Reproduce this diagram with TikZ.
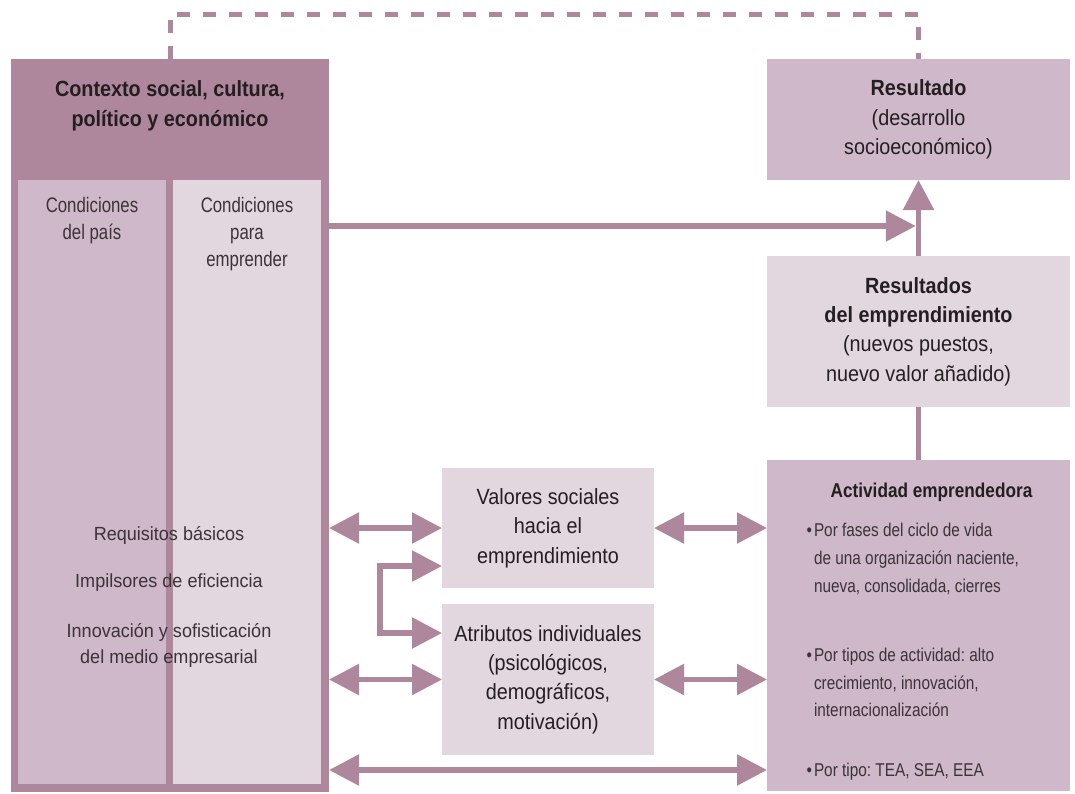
\documentclass[tikz,border=0pt]{standalone}
\usepackage{fontspec}
\setmainfont{Liberation Sans}[FakeStretch=0.9]
\newfontfamily\fcond{Liberation Sans}[FakeStretch=0.8]
\newfontfamily\freq{Liberation Sans}[FakeStretch=0.95]
\newfontfamily\fbul{Liberation Sans}[FakeStretch=0.83]
\newfontfamily\fact{Liberation Sans}[FakeStretch=0.86]
\usetikzlibrary{arrows.meta,calc}
\definecolor{dk}{RGB}{174,135,157}
\definecolor{md}{RGB}{207,184,201}
\definecolor{lt}{RGB}{226,214,223}
\definecolor{tx}{RGB}{35,31,32}
\definecolor{tl}{RGB}{58,52,55}
\frenchspacing
\begin{document}
\begin{tikzpicture}[x=1pt,y=-1pt,
  box/.style={anchor=north west, inner sep=0pt, outer sep=0pt, draw=none},
  mainfnt/.style={align=center, text=tx, font=\fontsize{22}{29.3}\selectfont},
  lbl/.style={inner sep=0pt, outer sep=0pt},
  arr/.style={draw=dk, line width=5.5pt},
  >={Triangle[length=30pt,width=30pt]}
]
\useasboundingbox (0,0) rectangle (1075,793);

% boxes
\node[box, fill=dk, minimum width=318pt, minimum height=733pt] (ctx) at (11,59) {};
\node[box, fill=md, minimum width=148pt, minimum height=604pt] (pais) at (18,180) {};
\node[box, fill=lt, minimum width=148pt, minimum height=604pt] (para) at (173,180) {};

\node[box, fill=md, minimum width=303pt, minimum height=121pt, mainfnt] (res) at (767,59)
  {\textbf{Resultado}\\(desarrollo\\socioeconómico)};
\node[box, fill=lt, minimum width=303pt, minimum height=151pt, mainfnt] (resemp) at (767,256)
  {\textbf{Resultados}\\\textbf{del emprendimiento}\\(nuevos puestos,\\nuevo valor añadido)};
\node[box, fill=md, minimum width=303pt, minimum height=331pt] (act) at (767,460) {};

\node[box, fill=lt, minimum width=212pt, minimum height=120pt, mainfnt] (val) at (442,468)
  {Valores sociales\\hacia el\\emprendimiento};
\node[box, fill=lt, minimum width=212pt, minimum height=151pt, mainfnt] (atr) at (442,604)
  {Atributos individuales\\(psicológicos,\\demográficos,\\motivación)};

% texts
\node[lbl, anchor=north, align=center, text=tx, font=\bfseries\fontsize{22}{30}\selectfont] (ctxT) at (170,80.5)
  {Contexto social, cultura,\\político y económico};
\node[lbl, anchor=north, align=center, text=tl, font=\fcond\fontsize{21}{27}\selectfont] (paisT) at (92,197.7)
  {Condiciones\\del país};
\node[lbl, anchor=north, align=center, text=tl, font=\fcond\fontsize{21}{27}\selectfont] (paraT) at (247,197.7)
  {Condiciones\\para\\emprender};
\node[lbl, anchor=north, align=center, text=tl, font=\freq\fontsize{19}{26}\selectfont] (reqT) at (169,526)
  {Requisitos básicos\\[21pt]Impilsores de eficiencia\\[24pt]Innovación y sofisticación\\del medio empresarial};

\node[lbl, anchor=north, text=tx, font=\fact\bfseries\fontsize{20}{24}\selectfont] (actT) at (931.5,483.4)
  {Actividad emprendedora};
\node[lbl, anchor=north west, align=left, text=tl, font=\fbul\fontsize{18.5}{28}\selectfont] (b1) at (814,523.5)
  {\llap{•\hspace{2pt}}Por fases del ciclo de vida\\de una organización naciente,\\nueva, consolidada, cierres};
\node[lbl, anchor=north west, align=left, text=tl, font=\fbul\fontsize{18.5}{27.5}\selectfont] (b2) at (814,648.5)
  {\llap{•\hspace{2pt}}Por tipos de actividad: alto\\crecimiento, innovación,\\internacionalización};
\node[lbl, anchor=north west, align=left, text=tl, font=\fbul\fontsize{18.5}{27.5}\selectfont] (b3) at (814,763.5)
  {\llap{•\hspace{2pt}}Por tipo: TEA, SEA, EEA};

% coordinates
\coordinate (tp) at (0,14.2);
\coordinate (hz) at (0,226);
\coordinate (bt) at (0,770);

% dashed feedback
\draw[draw=dk, line width=5pt, dash pattern=on 13pt off 13pt]
  (ctx.north) -- (ctx.north |- tp) -- (res.north |- tp) -- (res.north);

% connectors
\draw[arr, ->] (ctx.east |- hz) -- ($(res.south |- hz)+(-2.75,0)$);
\draw[arr, ->] (resemp.north) -- (res.south);
\draw[arr] (act.north) -- (resemp.south);

\draw[arr, <->] (ctx.east |- val.west) -- (val.west);
\draw[arr, <->] (val.east) -- (act.west |- val.east);
\draw[arr, <->] (ctx.east |- atr.west) -- (atr.west);
\draw[arr, <->] (atr.east) -- (act.west |- atr.east);
\draw[arr, <->] (ctx.east |- bt) -- (act.west |- bt);
\draw[arr, <->] ([yshift=22pt]val.south west) -- ++(-62,0) |- ([yshift=-29pt]atr.north west);
\end{tikzpicture}
\end{document}
